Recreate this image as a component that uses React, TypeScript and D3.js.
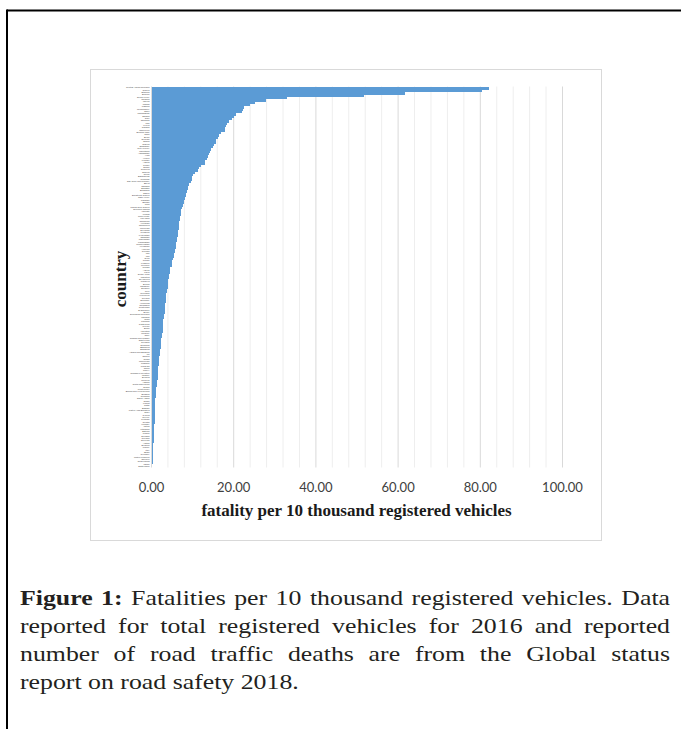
import React, { useEffect, useRef } from 'react';
import * as d3 from 'd3';

// countries, sorted by fatality rate (highest first)
const countries = [
  'Central African Republic', 'Guinea', 'Ethiopia', 'Burundi', 'Sierra Leone', 'Rwanda', 'Liberia', 'Malawi',
  'Uganda', 'Mozambique', 'Niger', 'Madagascar', 'Zambia', 'Togo', 'Tanzania', 'Mali', 'Kenya', 'Gambia',
  'Cameroon', 'Burkina Faso', 'Chad', 'Benin', 'Senegal', 'Ghana', 'Nigeria', 'Zimbabwe', "Cote d'Ivoire",
  'Mauritania', 'Afghanistan', 'Haiti', 'Yemen', 'Lesotho', 'Angola', 'Congo', 'Sudan', 'Comoros', 'Djibouti',
  'Nepal', 'Bangladesh', 'Myanmar', 'Sao Tome and Principe', 'Egypt', 'Namibia', 'Eswatini', 'Botswana', 'Gabon',
  'Equatorial Guinea', 'Cabo Verde', 'Pakistan', 'Bhutan', 'India', 'Papua New Guinea', 'Solomon Islands',
  'Vanuatu', 'Kiribati', 'Timor-Leste', 'Lao PDR', 'Cambodia', 'Viet Nam', 'Philippines', 'Indonesia',
  'Sri Lanka', 'Mongolia', 'Kyrgyzstan', 'Tajikistan', 'Uzbekistan', 'Kazakhstan', 'Turkmenistan', 'Azerbaijan',
  'Armenia', 'Georgia', 'Iran', 'Iraq', 'Syria', 'Jordan', 'Lebanon', 'Morocco', 'Tunisia', 'Algeria', 'Libya',
  'South Africa', 'Mauritius', 'Seychelles', 'Maldives', 'Bolivia', 'Paraguay', 'Ecuador', 'Peru', 'Colombia',
  'Venezuela', 'Guyana', 'Suriname', 'Honduras', 'Nicaragua', 'Guatemala', 'El Salvador', 'Belize',
  'Dominican Republic', 'Jamaica', 'Cuba', 'Panama', 'Costa Rica', 'Mexico', 'Brazil', 'Argentina', 'Uruguay',
  'Chile', 'Trinidad and Tobago', 'Saint Lucia', 'Grenada', 'Dominica', 'Barbados', 'Bahamas',
  'Antigua and Barbuda', 'Fiji', 'Samoa', 'Tonga', 'Micronesia', 'Thailand', 'Malaysia', 'China', 'Turkey',
  'Russian Federation', 'Ukraine', 'Belarus', 'Moldova', 'Albania', 'North Macedonia', 'Serbia', 'Montenegro',
  'Bosnia and Herzegovina', 'Bulgaria', 'Romania', 'Saudi Arabia', 'Oman', 'Kuwait', 'Qatar', 'Bahrain',
  'United Arab Emirates', 'Israel', 'Cyprus', 'Greece', 'Portugal', 'Croatia', 'Hungary', 'Latvia', 'Lithuania',
  'Estonia', 'Poland', 'Slovakia', 'Czechia', 'Slovenia', 'Austria', 'Belgium', 'France', 'Italy', 'Spain',
  'Germany', 'United Kingdom', 'Sweden', 'Netherlands', 'Japan', 'Switzerland',
];

// fatalities per 10 thousand registered vehicles
const fatalities = [
  82.0, 80.5, 61.7, 51.8, 33.0, 27.8, 25.2, 24.0, 22.6, 22.3, 21.9, 20.5, 20.0, 19.6, 18.8, 18.4, 18.2, 18.0,
  17.9, 16.8, 16.4, 16.2, 15.8, 15.6, 15.2, 15.0, 14.5, 14.3, 14.1, 13.7, 13.5, 13.1, 12.9, 12.1, 11.5, 11.3,
  10.6, 10.0, 9.9, 9.8, 9.7, 9.2, 9.0, 8.8, 8.6, 8.4, 8.3, 8.2, 7.9, 7.8, 7.7, 7.3, 7.2, 7.2, 7.1, 6.9, 6.9,
  6.8, 6.8, 6.7, 6.7, 6.5, 6.5, 6.4, 6.3, 6.1, 6.0, 6.0, 5.9, 5.7, 5.6, 5.5, 5.4, 5.2, 5.1, 5.0, 4.9, 4.6, 4.5,
  4.4, 4.3, 4.2, 4.1, 4.1, 4.0, 3.9, 3.8, 3.7, 3.6, 3.6, 3.5, 3.5, 3.4, 3.3, 3.3, 3.2, 3.2, 3.1, 3.0, 2.9, 2.9,
  2.8, 2.8, 2.7, 2.7, 2.6, 2.5, 2.4, 2.4, 2.3, 2.3, 2.2, 2.1, 2.0, 2.0, 1.9, 1.9, 1.9, 1.8, 1.7, 1.7, 1.6, 1.6,
  1.5, 1.5, 1.4, 1.3, 1.3, 1.2, 1.2, 1.1, 1.1, 1.0, 0.95, 0.9, 0.9, 0.88, 0.85, 0.85, 0.82, 0.8, 0.8, 0.78,
  0.75, 0.72, 0.6, 0.58, 0.55, 0.55, 0.52, 0.5, 0.5, 0.48, 0.45, 0.42, 0.4, 0.38, 0.32, 0.3, 0.28, 0.25, 0.15,
  0.1,
];

const xTicks = [0, 20, 40, 60, 80, 100];

const captionLines = [
  'Fatalities per 10 thousand registered vehicles. Data',
  'reported for total registered vehicles for 2016 and reported',
  'number of road traffic deaths are from the Global status',
  'report on road safety 2018.',
];

const data = countries.map((c, i) => ({ country: c, value: fatalities[i] }));

// caption is drawn in Times, stretched a bit to get Garamond-like widths
const capScale = 1.26;
const capWidth = 650;

export default function App() {
  const captionRef = useRef<SVGGElement>(null);

  const x = d3.scaleLinear().domain([0, 100]).range([151.5, 562.5]);
  const y = d3.scaleBand().domain(countries).range([86.5, 467.5]).paddingInner(0);
  const minorTicks = d3.range(4, 101, 4).filter(v => v % 20 !== 0);
  const [y0, y1] = y.range();

  // justify every caption line but the last
  useEffect(() => {
    d3.select(captionRef.current).selectAll('text.justify').each(function () {
      const t = this as SVGTextElement;
      t.setAttribute('word-spacing', '0');
      const natural = t.getComputedTextLength();
      const spaces = (t.textContent || '').split(' ').length - 1;
      t.setAttribute('word-spacing', String((capWidth / capScale - natural) / spaces));
    });
  }, []);

  return (
    <svg width={681} height={729} style={{ position: 'absolute', left: 0, top: 0 }}>
      <rect width={681} height={729} fill="#fff" />
      {/* page frame */}
      <line x1={7} x2={681} y1={10.5} y2={10.5} stroke="#000" strokeWidth={2} />
      <line x1={7} x2={7} y1={9.5} y2={729} stroke="#000" strokeWidth={2} />

      {/* chart frame */}
      <rect x={90.5} y={69.5} width={511} height={471} fill="#fff" stroke="#d9d9d9" />

      {/* gridlines */}
      {minorTicks.map(t => (
        <line key={'m' + t} x1={x(t)} x2={x(t)} y1={y0} y2={y1} stroke="#eeeeee" />
      ))}
      {xTicks.map(t => (
        <line key={'M' + t} x1={x(t)} x2={x(t)} y1={y0} y2={y1} stroke="#d9d9d9" />
      ))}

      {/* bars */}
      <g fill="#5b9bd5" shapeRendering="crispEdges">
        {data.map(d => (
          <rect
            key={d.country}
            x={x(0)}
            y={y(d.country)}
            width={x(d.value) - x(0)}
            height={y.bandwidth() + 1}
          />
        ))}
      </g>

      {/* category labels (tiny, as in the original) */}
      <g textAnchor="end" fontSize={2.2} fontFamily="Liberation Sans, sans-serif" fill="#404040">
        {data.map(d => (
          <text key={'l' + d.country} x={149.5} y={(y(d.country) || 0) + y.bandwidth() / 2 + 0.8}>
            {d.country}
          </text>
        ))}
      </g>

      {/* x tick labels */}
      {xTicks.map(t => (
        <text
          key={'t' + t}
          x={x(t)}
          y={492}
          textAnchor="middle"
          fontSize={13}
          fontFamily="Lato, sans-serif"
          fill="#404040"
        >
          {t.toFixed(2)}
        </text>
      ))}

      {/* axis titles */}
      <text
        x={356.5}
        y={516}
        textAnchor="middle"
        fontSize={17}
        fontWeight="bold"
        fontFamily="Liberation Serif, serif"
        fill="#1a1a1a"
      >
        fatality per 10 thousand registered vehicles
      </text>
      <text
        transform="translate(125.5,279) rotate(-90)"
        textAnchor="middle"
        fontSize={17}
        fontWeight="bold"
        fontFamily="Liberation Serif, serif"
        fill="#1a1a1a"
      >
        country
      </text>

      {/* caption */}
      <g ref={captionRef} fontFamily="Liberation Serif, serif" fontSize={20.5} fill="#231f20">
        {captionLines.map((line, i) => (
          <text
            key={i}
            className={i < captionLines.length - 1 ? 'justify' : undefined}
            transform={`translate(20,${605 + i * 28}) scale(${capScale},1)`}
          >
            {i === 0 && <tspan fontWeight="bold">Figure 1: </tspan>}
            {line}
          </text>
        ))}
      </g>
    </svg>
  );
}
